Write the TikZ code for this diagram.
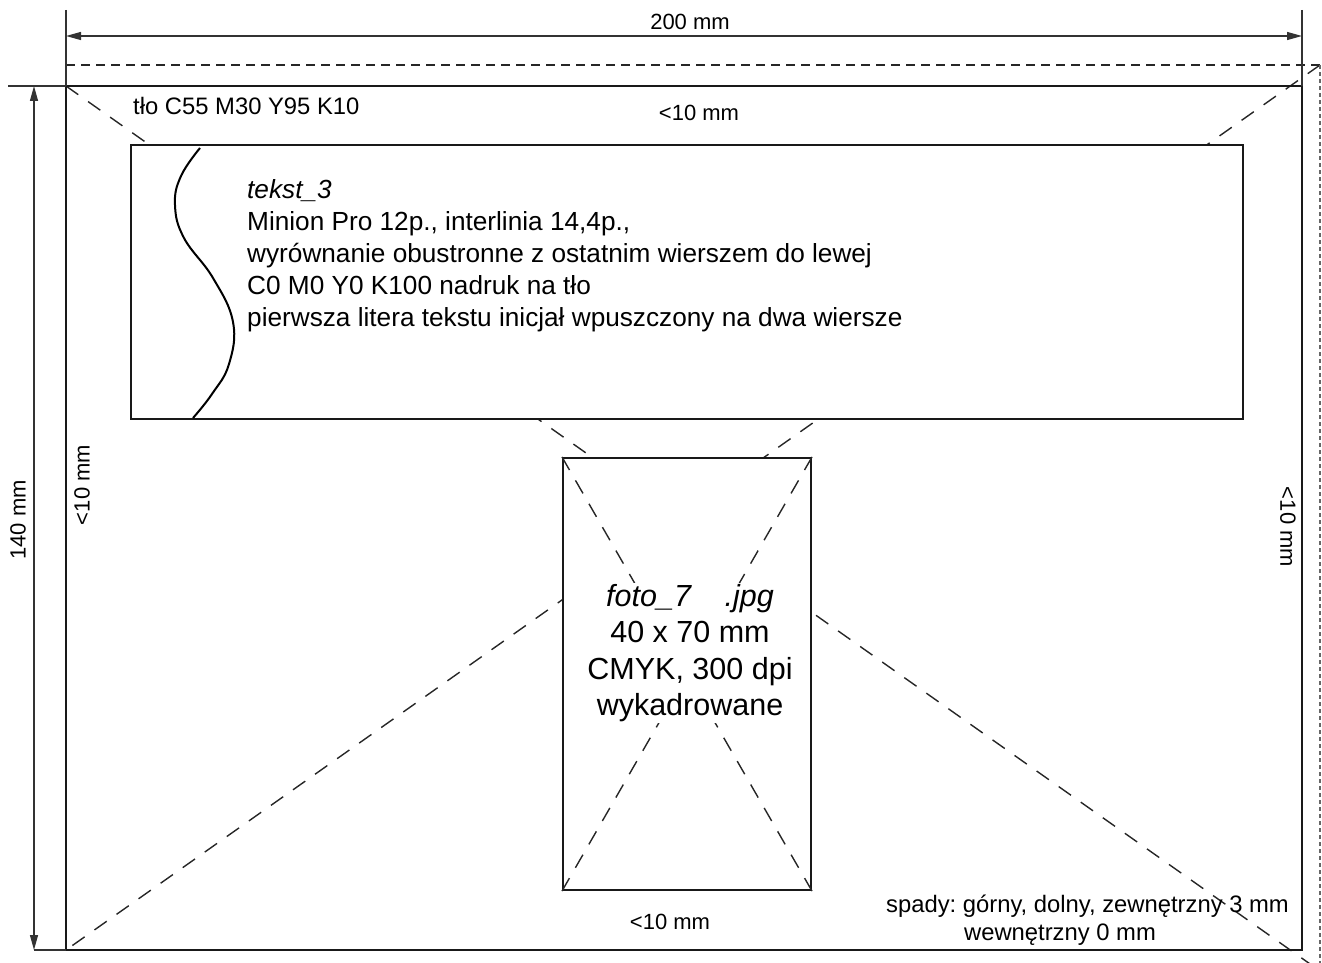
\documentclass[tikz,border=0pt]{standalone}
\usepackage{fontspec}
\setmainfont{Liberation Sans}
\usetikzlibrary{arrows.meta}
\frenchspacing
\tikzset{
  frame/.style={draw=black!90, line width=2pt},
  dimline/.style={draw=black!80, line width=1.2pt},
  dimarrow/.style={dimline, {Triangle[length=15pt,width=8pt]}-{Triangle[length=15pt,width=8pt]}},
  guide/.style={draw=black!85, line width=1.4pt, dash pattern=on 15pt off 12pt},
  bleedtop/.style={draw=black!85, line width=1.4pt, dash pattern=on 9pt off 6pt},
  bleedside/.style={draw=black!60, line width=2pt, dash pattern=on 4pt off 3pt},
  lbl/.style={font=\fontsize{22}{25}\selectfont, inner sep=0pt},
  lblbig/.style={font=\fontsize{23.8}{27}\selectfont, inner sep=0pt},
  boxtext/.style={font=\fontsize{26.2}{32.2}\selectfont, inner sep=0pt, align=left},
  phototext/.style={font=\fontsize{30.5}{36.4}\selectfont, inner sep=1pt, align=center, fill=white}
}
\begin{document}
\begin{tikzpicture}[x=1pt,y=-1pt]
\useasboundingbox (0,0) rectangle (1322,963);
% page corners
\coordinate (pTL) at (66,86);
\coordinate (pTR) at (1302,86);
\coordinate (pBL) at (66,950);
\coordinate (pBR) at (1302,950);
% bleed corners
\coordinate (bTL) at (66,65);
\coordinate (bTR) at (1320,65);
\coordinate (bBR) at (1320,971);
% dimension helpers
\coordinate (dTL) at (66,10);
\coordinate (dTR) at (1302,10);
\coordinate (dA) at (66,36);
\coordinate (dB) at (1302,36);
\coordinate (dLt) at (8,86);
\coordinate (dLb) at (34,950);
\coordinate (dC) at (34,86);
\coordinate (dD) at (34,950);

% big diagonals (behind boxes)
\draw[guide] (pTL) -- (bBR);
\draw[guide] (bTR) -- (pBL);

% bleed lines
\draw[bleedtop] (bTL) -- (bTR);
\draw[bleedside] (bTR) -- (bBR);

% page
\draw[frame] (pTL) rectangle (pBR);

% dimension extension lines
\draw[dimline] (dTL) -- (pTL);
\draw[dimline] (dTR) -- (pTR);
\draw[dimline] (dLt) -- (pTL);
\draw[dimline] (dLb) -- (pBL);
\draw[dimarrow] (dA) -- (dB);
\draw[dimarrow] (dC) -- (dD);
\node[lbl] (w200) at (690,22) {200 mm};
\node[lbl, rotate=90] (h140) at (18,520) {140 mm};

% text box
\node[frame, fill=white, minimum width=1112pt, minimum height=274pt, inner sep=0pt] (tbox) at (687,282) {};
\draw[black, line width=2pt] plot[smooth, tension=0.7] coordinates {(200,148) (181,176) (175,205) (184,238) (213,278) (233,322) (229,364) (212,394) (193,418)};
\node[boxtext, anchor=north west] (btxt) at (247,179) {\textit{tekst\_3}\\
Minion Pro 12p., interlinia 14,4p.,\\
wyrównanie obustronne z ostatnim wierszem do lewej\\
C0 M0 Y0 K100 nadruk na tło\\
pierwsza litera tekstu inicjał wpuszczony na dwa wiersze};

% photo box
\node[frame, fill=white, minimum width=248pt, minimum height=432pt, inner sep=0pt] (pbox) at (687,674) {};
\draw[guide] (pbox.north west) -- (pbox.south east);
\draw[guide] (pbox.north east) -- (pbox.south west);
\node[phototext] (ptxt) at (690,653) {\textit{foto\_7\hspace{1.1em}.jpg}\\40 x 70 mm\\CMYK, 300 dpi\\wykadrowane};

% labels
\node[lblbig, anchor=west] (tlo) at (133,106) {tło C55 M30 Y95 K10};
\node[lbl] (m1) at (699,113) {<10 mm};
\node[lbl, rotate=90] (m2) at (82,485) {<10 mm};
\node[lbl, rotate=-90] (m3) at (1288,527) {<10 mm};
\node[lbl] (m4) at (670,922) {<10 mm};
\node[lblbig, anchor=east] (sp1) at (1289,906) {spady: górny, dolny, zewnętrzny 3 mm};
\node[lblbig] (sp2) at (1060,935) {wewnętrzny 0 mm};
\end{tikzpicture}
\end{document}
